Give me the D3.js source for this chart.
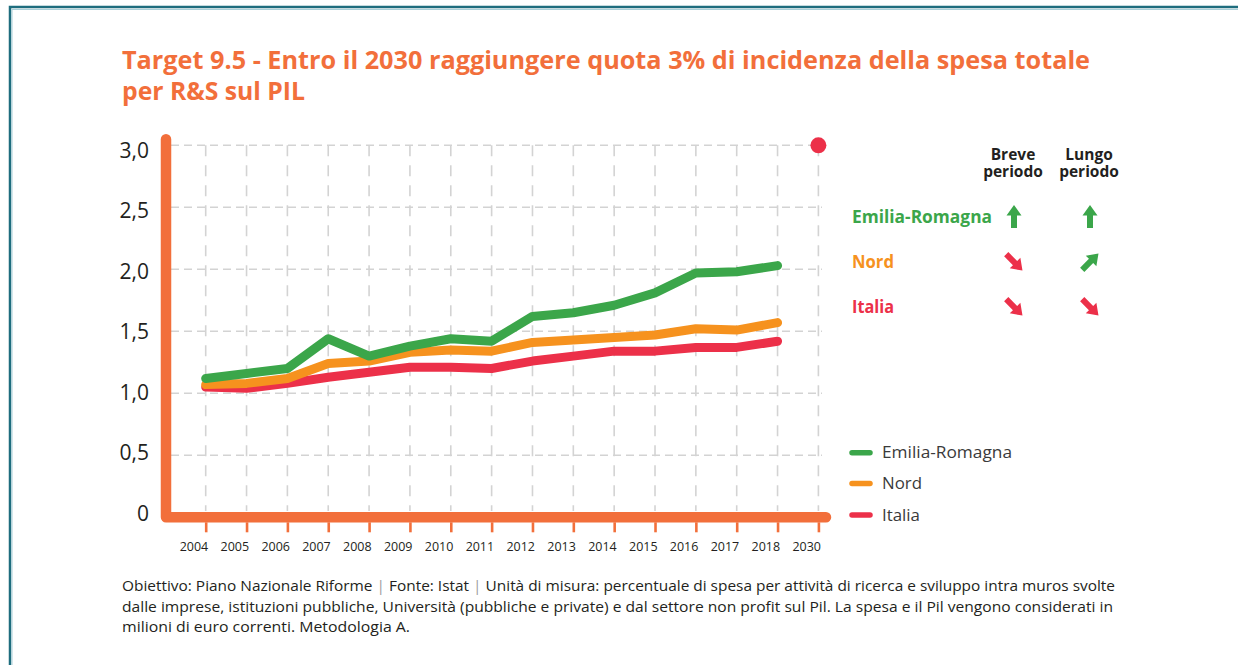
<!DOCTYPE html>
<html>
<head>
<meta charset="utf-8">
<script src="https://cdn.jsdelivr.net/npm/d3@7"></script>
<style>
  html, body { margin: 0; padding: 0; background: #ffffff; }
  svg { display: block; }
  text { font-family: "Open Sans", "Noto Sans", sans-serif; }
</style>
</head>
<body>
<svg id="chart" width="1238" height="665"></svg>
<script>
// ---------- data ----------
const years = ["2004","2005","2006","2007","2008","2009","2010","2011","2012","2013","2014","2015","2016","2017","2018","2030"];
const dataYears = ["2004","2005","2006","2007","2008","2009","2010","2011","2012","2013","2014","2015","2016","2017","2018"];
const emilia = [1.12, 1.16, 1.20, 1.44, 1.30, 1.38, 1.44, 1.42, 1.62, 1.65, 1.71, 1.81, 1.97, 1.98, 2.03];
const nord   = [1.07, 1.08, 1.12, 1.24, 1.26, 1.33, 1.35, 1.34, 1.41, 1.43, 1.45, 1.47, 1.52, 1.51, 1.57];
const italia = [1.05, 1.04, 1.08, 1.13, 1.17, 1.21, 1.21, 1.20, 1.26, 1.30, 1.34, 1.34, 1.37, 1.37, 1.42];
const targetYear = "2030";
const targetValue = 3.0;
const yTicks = [0, 0.5, 1.0, 1.5, 2.0, 2.5, 3.0];
const seriesNames = ["Emilia-Romagna", "Nord", "Italia"];
const shortTerm = ["up", "down", "down"];      // Breve periodo
const longTerm  = ["up", "upright", "down"];   // Lungo periodo
const columnHeaders = [["Breve", "periodo"], ["Lungo", "periodo"]];

const titleLines = [
  "Target 9.5 - Entro il 2030 raggiungere quota 3% di incidenza della spesa totale",
  "per R&S sul PIL"
];
const footerLines = [
  ["Obiettivo: Piano Nazionale Riforme ", "|", " Fonte: Istat ", "|", " Unità di misura: percentuale di spesa per attività di ricerca e sviluppo intra muros svolte"],
  ["dalle imprese, istituzioni pubbliche, Università (pubbliche e private) e dal settore non profit sul Pil. La spesa e il Pil vengono considerati in"],
  ["milioni di euro correnti. Metodologia A."]
];

// ---------- styles ----------
const C = {
  axis: "#f26f3b",
  green: "#3ba64a",
  orange: "#f6921e",
  red: "#ec3049",
  grid: "#d3d3d3",
  text: "#231f20",
  border: "#1e6d7e"
};
const seriesColors = [C.green, C.orange, C.red];

const svg = d3.select("#chart");

// frame
svg.append("rect").attr("x", 0).attr("y", 0).attr("width", 1238).attr("height", 665).attr("fill", "#fff");
svg.append("path")
  .attr("d", "M10,665 L10,7 L1238,7")
  .attr("fill", "none").attr("stroke", C.border).attr("stroke-width", 2.5);
svg.append("path")
  .attr("d", "M12,665 L12,9.5 L1238,9.5")
  .attr("fill", "none").attr("stroke", "#a9cfd8").attr("stroke-width", 1);

// title
const titleWidths = [968, 183];
titleLines.forEach((t, i) => {
  svg.append("text")
    .attr("x", 122).attr("y", 69 + i * 31)
    .attr("font-size", 25).attr("font-weight", 700)
    .attr("fill", C.axis)
    .attr("textLength", titleWidths[i]).attr("lengthAdjust", "spacingAndGlyphs")
    .text(t);
});

// ---------- scales ----------
const x = d3.scalePoint().domain(years).range([205.7, 818.4]).padding(0);
const y = d3.scaleLinear().domain([0, 3]).range([517.3, 145.3]);
const yLab = d3.scaleLinear().domain([0, 3]).range([513.3, 150.8]);

// grid
const grid = svg.append("g");
grid.selectAll("line.h").data(yTicks.filter(d => d > 0)).join("line")
  .attr("x1", 171).attr("x2", 822)
  .attr("y1", d => y(d)).attr("y2", d => y(d))
  .attr("stroke", C.grid).attr("stroke-width", 1.6)
  .attr("stroke-dasharray", "8,5");
grid.selectAll("line.v").data(years).join("line")
  .attr("x1", d => x(d)).attr("x2", d => x(d))
  .attr("y1", y(3)).attr("y2", 511)
  .attr("stroke", C.grid).attr("stroke-width", 1.6)
  .attr("stroke-dasharray", "11,9");

// x axis (ticks + labels)
const xAxis = d3.axisBottom(x).tickSize(10).tickPadding(10);
const gx = svg.append("g").attr("transform", `translate(0,${y(0) + 5})`).call(xAxis);
gx.select(".domain").remove();
gx.selectAll(".tick line").attr("stroke", C.axis).attr("stroke-width", 2.6);
gx.selectAll(".tick text")
  .attr("fill", C.text).attr("font-size", 12.5)
  .attr("font-family", "'Open Sans', sans-serif")
  .attr("text-anchor", "end").attr("dx", 2).attr("dy", "0.72em")
  .attr("textLength", 28.5).attr("lengthAdjust", "spacingAndGlyphs");

// y axis labels
const yAxis = d3.axisLeft(yLab).tickValues(yTicks).tickSize(0).tickPadding(0)
  .tickFormat(d => d === 0 ? "0" : d.toFixed(1).replace(".", ","));
const gy = svg.append("g").attr("transform", "translate(149,0)").call(yAxis);
gy.select(".domain").remove();
gy.selectAll(".tick text")
  .attr("fill", C.text).attr("font-size", 21)
  .attr("font-family", "'Open Sans', sans-serif");

// axis lines (orange L)
svg.append("path")
  .attr("d", `M166,${y(3) - 6} L166,${y(0)} L826,${y(0)}`)
  .attr("fill", "none").attr("stroke", C.axis)
  .attr("stroke-width", 10.5)
  .attr("stroke-linecap", "round").attr("stroke-linejoin", "round");

// series lines
const line = d3.line().x(d => x(d[0])).y(d => y(d[1]));
const series = [emilia, nord, italia];
[2, 1, 0].forEach(i => {
  svg.append("path")
    .datum(dataYears.map((yr, j) => [yr, series[i][j]]))
    .attr("d", line)
    .attr("fill", "none").attr("stroke", seriesColors[i])
    .attr("stroke-width", 9)
    .attr("stroke-linecap", "round").attr("stroke-linejoin", "round");
});

// target point
svg.append("circle")
  .attr("cx", x(targetYear)).attr("cy", y(targetValue)).attr("r", 8)
  .attr("fill", C.red);

// ---------- trend table ----------
const colX = [1013, 1089];
columnHeaders.forEach((lines, c) => {
  const t = svg.append("text")
    .attr("x", colX[c]).attr("y", 160)
    .attr("text-anchor", "middle")
    .attr("font-size", 15.5).attr("font-weight", 700)
    .attr("fill", C.text);
  lines.forEach((s, k) => {
    t.append("tspan").attr("x", colX[c]).attr("dy", k === 0 ? 0 : 17).text(s);
  });
});
const rowY = [217, 262, 307];
const rowW = [140, 42, 42];
seriesNames.forEach((n, i) => {
  svg.append("text")
    .attr("x", 852).attr("y", rowY[i] + 6)
    .attr("font-size", 17.5).attr("font-weight", 700)
    .attr("fill", seriesColors[i])
    .attr("textLength", rowW[i]).attr("lengthAdjust", "spacingAndGlyphs")
    .text(n);
});
const arrowShape = "M0,-12 L-7.5,-1.5 L-3,-1.5 L-3,11 L3,11 L3,-1.5 L7.5,-1.5 Z";
const arrowRot = { up: 0, upright: 45, down: 135 };
const arrowCol = { up: C.green, upright: C.green, down: C.red };
function drawArrow(cx, cy, kind) {
  svg.append("path")
    .attr("d", arrowShape)
    .attr("transform", `translate(${cx},${cy}) rotate(${arrowRot[kind]})`)
    .attr("fill", arrowCol[kind]);
}
seriesNames.forEach((n, i) => {
  drawArrow(colX[0] + 1, rowY[i], shortTerm[i]);
  drawArrow(colX[1] + 1, rowY[i], longTerm[i]);
});

// ---------- legend ----------
const legY = [452.7, 483.5, 515];
const legW = [130, 40, 38];
seriesNames.forEach((n, i) => {
  svg.append("line")
    .attr("x1", 852).attr("x2", 870)
    .attr("y1", legY[i]).attr("y2", legY[i])
    .attr("stroke", seriesColors[i]).attr("stroke-width", 5.5)
    .attr("stroke-linecap", "round");
  svg.append("text")
    .attr("x", 882).attr("y", legY[i] + 5.5)
    .attr("font-size", 16.5).attr("fill", "#3a3a3a")
    .attr("textLength", legW[i]).attr("lengthAdjust", "spacingAndGlyphs")
    .text(n);
});

// ---------- footer ----------
const footerW = [993, 991, 288];
footerLines.forEach((parts, i) => {
  const t = svg.append("text")
    .attr("x", 122).attr("y", 591 + i * 20.5)
    .attr("font-size", 14).attr("fill", C.text)
    .attr("textLength", footerW[i]).attr("lengthAdjust", "spacingAndGlyphs");
  parts.forEach(p => {
    t.append("tspan").attr("fill", p === "|" ? "#a0a0a0" : C.text).text(p);
  });
});
</script>
</body>
</html>
